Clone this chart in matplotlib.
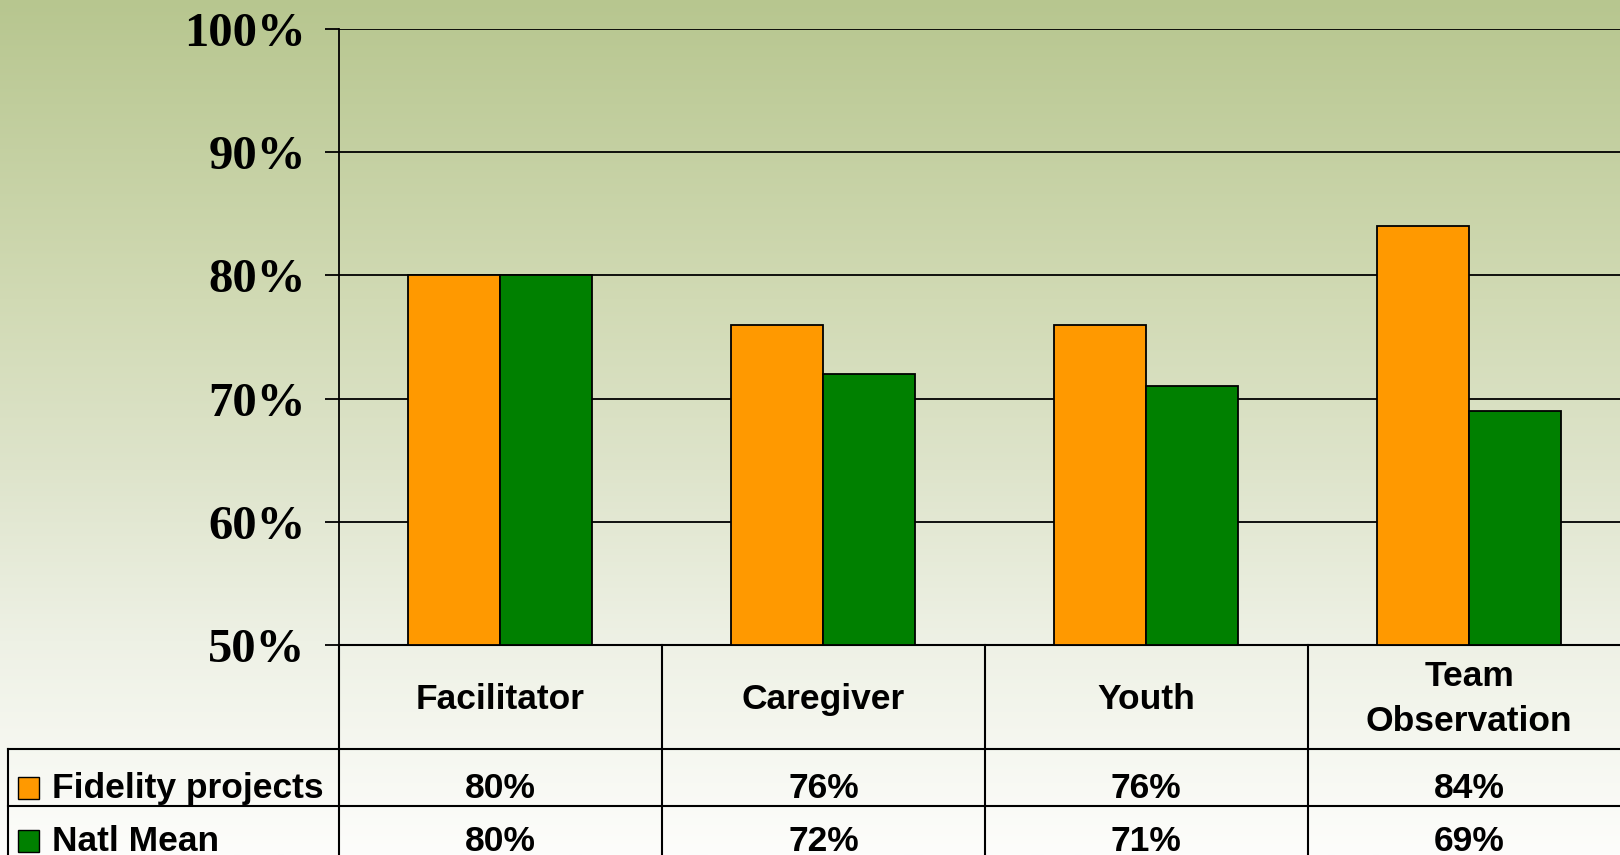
#!/usr/bin/env python3
"""Fidelity projects vs national mean, bar chart with data table underneath."""

import numpy as np
import matplotlib

matplotlib.use("Agg")
import matplotlib.pyplot as plt
from matplotlib.patches import Rectangle
from matplotlib.transforms import blended_transform_factory


categories = ["Facilitator", "Caregiver", "Youth", "Team\nObservation"]
series_names = ["Fidelity projects", "Natl Mean"]
fidelity = [80, 76, 76, 84]
natl_mean = [80, 72, 71, 69]
y_ticks = [50, 60, 70, 80, 90, 100]
y_tick_labels = ["50%", "60%", "70%", "80%", "90%", "100%"]

ORANGE = "#FF9900"
GREEN = "#008000"
W, H = 1620, 855


def fy(py):
    # pixel row from top -> figure fraction
    return 1.0 - py / H


def fx(px):
    return px / W


fig = plt.figure(figsize=(W / 100, H / 100), dpi=100)

# vertical background gradient
bg = fig.add_axes([0, 0, 1, 1], zorder=-10)
bg.axis("off")
stops_y = [0.0, 0.35, 0.55, 0.75, 1.0]
stops_c = np.array(
    [
        [183, 198, 143],
        [209, 218, 180],
        [222, 228, 203],
        [238, 241, 229],
        [253, 253, 251],
    ]
) / 255.0
yy = np.linspace(0, 1, 400)
grad = np.stack([np.interp(yy, stops_y, stops_c[:, k]) for k in range(3)], axis=1)
bg.imshow(grad[:, None, :], aspect="auto", extent=[0, 1, 1, 0])
bg.set_xlim(0, 1)
bg.set_ylim(1, 0)

left_px, top_px, bottom_px = 339, 29, 645
cat_px = 322.9
ax = fig.add_axes(
    [fx(left_px), fy(bottom_px), 4 * cat_px / W, (bottom_px - top_px) / H]
)
ax.patch.set_alpha(0)

x = np.arange(len(categories))
bw = 0.285
ax.bar(x - bw / 2, np.array(fidelity) - 50, bw, bottom=50, color=ORANGE,
       edgecolor="black", linewidth=1.3, zorder=3)
ax.bar(x + bw / 2, np.array(natl_mean) - 50, bw, bottom=50, color=GREEN,
       edgecolor="black", linewidth=1.3, zorder=3)

ax.set_xlim(-0.5, len(categories) - 0.5)
ax.set_ylim(50, 100)
ax.set_xticks([])
ax.set_yticks(y_ticks)
ax.set_yticklabels(y_tick_labels, fontfamily="Liberation Serif",
                   fontweight="bold", fontsize=35)
ax.tick_params(axis="y", direction="out", length=10, width=1.3, pad=14)
ax.yaxis.grid(True, color="black", linewidth=1.3, zorder=1)
ax.spines["right"].set_visible(False)
ax.spines["top"].set_visible(False)
ax.spines["left"].set_linewidth(1.3)
ax.spines["bottom"].set_linewidth(1.5)

# data table below the axes
tr = blended_transform_factory(ax.transData, fig.transFigure)
ftr = fig.transFigure
row_lines = [749, 806]
row_centers = [788, 841]
lw = 1.5
for py in row_lines:
    fig.add_artist(plt.Line2D([fx(8), 1.0], [fy(py), fy(py)], color="black",
                              linewidth=lw, transform=ftr))
fig.add_artist(plt.Line2D([fx(8), fx(8)], [fy(row_lines[0]), 0], color="black",
                          linewidth=lw, transform=ftr))
fig.add_artist(plt.Line2D([fx(left_px), fx(left_px)], [fy(bottom_px), 0],
                          color="black", linewidth=lw, transform=ftr))
for i in range(1, len(categories)):
    ax.plot([i - 0.5, i - 0.5], [fy(bottom_px), 0], color="black",
            linewidth=lw, transform=tr, clip_on=False)

txt = dict(fontfamily="Liberation Sans", fontweight="bold", fontsize=25.5,
           ha="center", va="center", color="black")
for i, cat in enumerate(categories):
    ax.text(i, fy(699), cat, transform=tr, linespacing=1.45, clip_on=False, **txt)
for values, py in zip([fidelity, natl_mean], row_centers):
    for i, v in enumerate(values):
        ax.text(i, fy(py), f"{v}%", transform=tr, clip_on=False, **txt)

for name, color, py in zip(series_names, [ORANGE, GREEN], row_centers):
    fig.add_artist(Rectangle((fx(18), fy(py + 11)), 21 / W, 22 / H,
                             facecolor=color, edgecolor="black", linewidth=1.0,
                             transform=ftr))
    fig.text(fx(52), fy(py), name, ha="left", va="center",
             fontfamily="Liberation Sans", fontweight="bold", fontsize=25.5)

fig.savefig("out.png", dpi=100)
